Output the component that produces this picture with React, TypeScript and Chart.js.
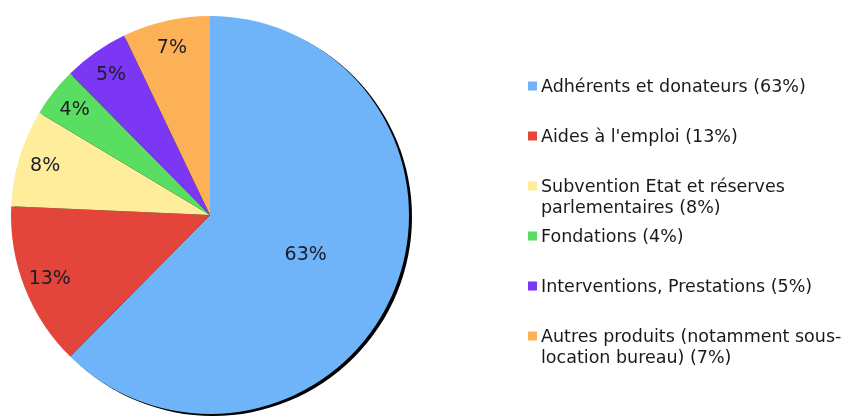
import React, { useEffect, useRef } from "react";
import { Chart, registerables } from "chart.js";

Chart.register(...registerables);

// Category names (legend lines, as they wrap in the reference)
const categoryLines: string[][] = [
  ["Adhérents et donateurs (63%)"],
  ["Aides à l'emploi (13%)"],
  ["Subvention Etat et réserves", "parlementaires (8%)"],
  ["Fondations (4%)"],
  ["Interventions, Prestations (5%)"],
  ["Autres produits (notamment sous-", "location bureau) (7%)"],
];
const categories: string[] = [
  "Adhérents et donateurs",
  "Aides à l'emploi",
  "Subvention Etat et réserves parlementaires",
  "Fondations",
  "Interventions, Prestations",
  "Autres produits (notamment sous-location bureau)",
];
// Slice shares as drawn in the picture
const shares: number[] = [62.4, 13.3, 7.9, 4.0, 5.3, 7.1];
// Percent labels printed on the slices
const sliceLabels: string[] = ["63%", "13%", "8%", "4%", "5%", "7%"];
const colors: string[] = ["#6fb3f9", "#e4453b", "#feee9c", "#5ade62", "#7c37f5", "#fcb156"];

const FONT = "'DejaVu Sans', Verdana, sans-serif";

const shadowPlugin = {
  id: "pieShadow",
  beforeDatasetsDraw(chart: any) {
    const arc = chart.getDatasetMeta(0).data[0];
    if (!arc) return;
    const { x, y, outerRadius } = arc.getProps(["x", "y", "outerRadius"], true);
    const ctx = chart.ctx;
    ctx.save();
    ctx.fillStyle = "#000";
    ctx.beginPath();
    ctx.arc(x + 3, y + 2, outerRadius, 0, Math.PI * 2);
    ctx.fill();
    ctx.restore();
  },
};

const sliceLabelPlugin = {
  id: "sliceLabels",
  afterDatasetsDraw(chart: any) {
    const meta = chart.getDatasetMeta(0);
    const total = shares.reduce((a, b) => a + b, 0);
    const ctx = chart.ctx;
    ctx.save();
    ctx.font = `19px ${FONT}`;
    ctx.fillStyle = "#1c1c2a";
    ctx.textAlign = "center";
    ctx.textBaseline = "middle";
    meta.data.forEach((arc: any, i: number) => {
      const { x, y, startAngle, endAngle, outerRadius } = arc.getProps(
        ["x", "y", "startAngle", "endAngle", "outerRadius"],
        true
      );
      const mid = (startAngle + endAngle) / 2;
      const f = shares[i] / total > 0.5 ? 0.52 : 0.865;
      ctx.fillText(
        sliceLabels[i],
        x + Math.cos(mid) * outerRadius * f,
        y + Math.sin(mid) * outerRadius * f + 1
      );
    });
    ctx.restore();
  },
};

const legendPlugin = {
  id: "sideLegend",
  afterDraw(chart: any) {
    const ctx = chart.ctx;
    const x0 = 528;
    const textX = 541;
    const y0 = 86;
    const step = 50;
    const lineH = 21;
    ctx.save();
    ctx.font = `17.5px ${FONT}`;
    ctx.textBaseline = "middle";
    ctx.textAlign = "left";
    categoryLines.forEach((lines, i) => {
      const cy = y0 + i * step;
      ctx.fillStyle = colors[i];
      ctx.fillRect(x0, cy - 4.5, 9, 9);
      ctx.fillStyle = "#1a1a1a";
      lines.forEach((ln, j) => ctx.fillText(ln, textX, cy + 1 + j * lineH));
    });
    ctx.restore();
  },
};

export default function App() {
  const ref = useRef<HTMLCanvasElement | null>(null);
  useEffect(() => {
    document.body.style.margin = "0";
    const canvas = ref.current;
    if (!canvas) return;
    const chart = new Chart(canvas, {
      type: "pie",
      data: {
        labels: categories,
        datasets: [
          {
            data: shares,
            backgroundColor: colors,
            borderColor: colors,
            borderWidth: 0,
            hoverOffset: 0,
            offset: 0,
          },
        ],
      },
      options: {
        responsive: false,
        animation: false,
        devicePixelRatio: 1,
        layout: { padding: { left: 11, top: 16, right: 433, bottom: 3 } },
        plugins: {
          legend: { display: false },
          title: { display: false },
          tooltip: { enabled: false },
        },
      },
      plugins: [shadowPlugin, sliceLabelPlugin, legendPlugin],
    });
    return () => chart.destroy();
  }, []);
  return (
    <div style={{ position: "absolute", left: 0, top: 0, width: 842, height: 417, background: "#fff" }}>
      <canvas ref={ref} width={842} height={417} />
    </div>
  );
}
